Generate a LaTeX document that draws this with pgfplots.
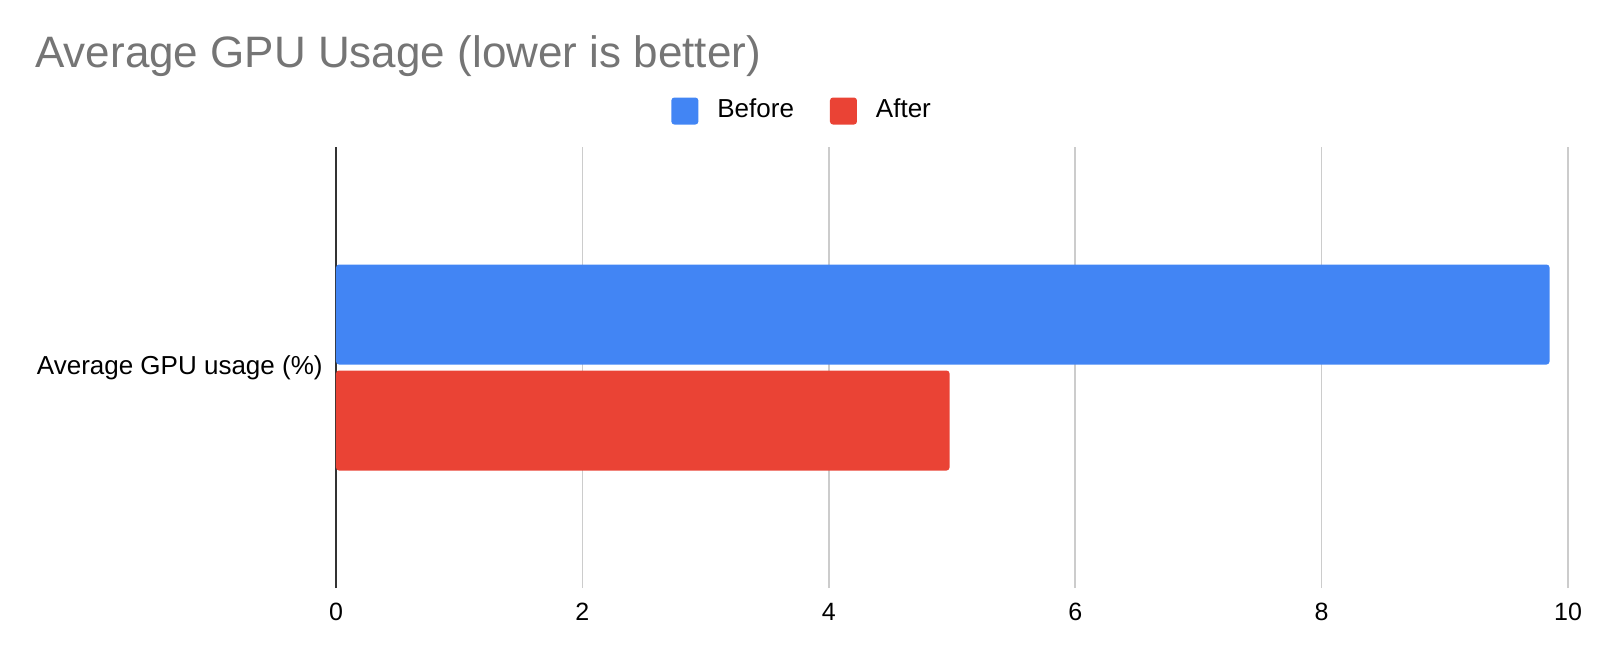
\documentclass[border=0pt]{standalone}
\usepackage{pgfplots}
\pgfplotsset{compat=1.18}
\usepackage{fontspec}
\setmainfont{Liberation Sans}
\definecolor{gblue}{HTML}{4285F4}
\definecolor{gred}{HTML}{EA4335}
\definecolor{gtitle}{HTML}{757575}
\definecolor{ggrid}{HTML}{CCCCCC}
\definecolor{gaxis}{HTML}{333333}
\begin{document}
\begin{tikzpicture}
\begin{axis}[
  at={(0,0)}, anchor=south west,
  scale only axis, width=616pt, height=220.5pt,
  xbar,
  xmin=0, xmax=10, ymin=-1, ymax=1,
  xtick={0,2,4,6,8,10},
  ytick={0}, yticklabels={Average GPU usage (\%)},
  major tick length=0pt,
  axis line style={draw=none},
  xmajorgrids, grid style={ggrid, line width=0.75pt},
  extra x ticks={0}, extra x tick labels={},
  extra x tick style={grid style={gaxis, line width=1pt}},
  /pgf/number format/assume math mode=true,
  tick label style={font=\fontsize{12.5pt}{15pt}\selectfont, text=black},
  xticklabel style={anchor=center, yshift=-12pt},
  yticklabel style={anchor=east, inner sep=0pt, xshift=-6.5pt, font=\fontsize{13pt}{15pt}\selectfont},
  bar width=50pt,
  legend columns=2,
  legend style={draw=none, fill=none, at={(0.2719,1.0816)}, anchor=west,
    inner xsep=0pt, inner ysep=0pt,
    column sep=9.5pt,
    /tikz/every even column/.append style={column sep=18pt},
    nodes={inner sep=0pt, font=\fontsize{13pt}{15pt}\selectfont},
    cells={anchor=base west}},
  legend image code/.code={\fill[#1, rounded corners=1.5pt] (0pt,-3.75pt) rectangle (13.5pt,9.75pt);},
]
\addplot[fill=gblue, draw=none, bar shift=26.5pt, rounded corners=1.5pt] coordinates {(9.85,0)};
\addlegendentry{Before}
\addplot[fill=gred, draw=none, bar shift=-26.5pt, rounded corners=1.5pt] coordinates {(4.98,0)};
\addlegendentry{After}
\end{axis}
\node[anchor=base west, inner sep=0pt, text=gtitle, font=\fontsize{22pt}{26pt}\selectfont] at (-150.5pt,260.5pt) {Average GPU Usage (lower is better)};
\path[use as bounding box] (-168pt,-36.5pt) rectangle (632pt,294pt);
\end{tikzpicture}
\end{document}
